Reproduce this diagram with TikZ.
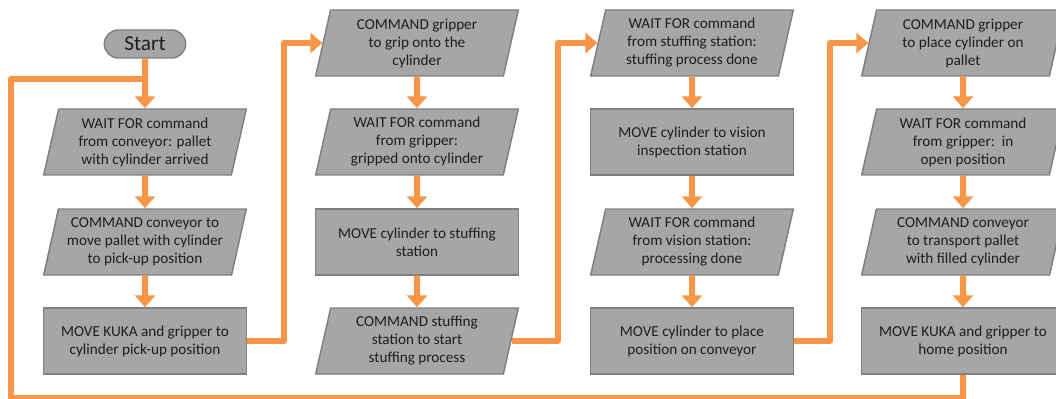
\documentclass[tikz,border=0pt]{standalone}
\usepackage{fontspec}
\setmainfont{Carlito}
\usetikzlibrary{arrows.meta}
\usetikzlibrary{shapes.geometric}
\definecolor{flowor}{HTML}{F79646}
\definecolor{boxgray}{HTML}{A6A6A6}
\definecolor{boxline}{HTML}{7F7F7F}
\definecolor{boxtext}{HTML}{1E1E1E}
\tikzset{
    procbox/.style={draw=boxline, fill=boxgray, line width=1.1pt, text=boxtext,
        minimum width=152pt, minimum height=49.5pt, inner sep=0pt, align=center,
        font=\fontsize{11.4}{13.5}\selectfont},
    iobox/.style={procbox, trapezium, trapezium left angle=73, trapezium right angle=107,
        trapezium stretches body},
    startbox/.style={procbox, rounded corners=10.5pt, minimum width=61pt, minimum height=21pt,
        font=\fontsize{16}{18}\selectfont},
    flow/.style={draw=flowor, line width=4.5pt, line join=round,
        -{Triangle[width=15pt,length=9pt]}},
    loopline/.style={draw=flowor, line width=4.5pt, line join=round}
}
\begin{document}
\begin{tikzpicture}[x=0.75pt,y=-0.75pt]
        \useasboundingbox (0,0) rectangle (1056,399);
        \node[startbox] (s) at (145,44) {Start};
        \node[iobox] (a1) at (145,142) {WAIT FOR command\\from conveyor: pallet\\with cylinder arrived};
        \node[iobox] (a2) at (145,242) {COMMAND conveyor to\\move pallet with cylinder\\to pick-up position};
        \node[procbox] (a3) at (145,341) {MOVE KUKA and gripper to\\cylinder pick-up position};
        \node[iobox] (b1) at (417,43) {COMMAND gripper\\to grip onto the\\cylinder};
        \node[iobox] (b2) at (417,142) {WAIT FOR command\\from gripper:\\gripped onto cylinder};
        \node[procbox] (b3) at (417,242) {MOVE cylinder to stuffing\\station};
        \node[iobox] (b4) at (417,341) {COMMAND stuffing\\station to start\\stuffing process};
        \node[iobox] (c1) at (692,43) {WAIT FOR command\\from stuffing station:\\stuffing process done};
        \node[procbox] (c2) at (692,142) {MOVE cylinder to vision\\inspection station};
        \node[iobox] (c3) at (692,242) {WAIT FOR command\\from vision station:\\processing done};
        \node[procbox] (c4) at (692,341) {MOVE cylinder to place\\position on conveyor};
        \node[iobox] (d1) at (963,43) {COMMAND gripper\\to place cylinder on\\pallet};
        \node[iobox] (d2) at (963,142) {WAIT FOR command\\from gripper:\ \ in\\open position};
        \node[iobox] (d3) at (963,242) {COMMAND conveyor\\to transport pallet\\with filled cylinder};
        \node[procbox] (d4) at (963,341) {MOVE KUKA and gripper to\\home position};
        \coordinate (loopjoin) at (145,79);
        \coordinate (loopcorner) at (11,398);
        \draw[loopline] (d4.south) |- (loopcorner) |- (loopjoin);
        \draw[flow] (s) -- (a1);
        \draw[flow] (a1) -- (a2);
        \draw[flow] (a2) -- (a3);
        \draw[flow] (a3.east) -- ++(37,0) |- (b1.west);
        \draw[flow] (b1) -- (b2);
        \draw[flow] (b2) -- (b3);
        \draw[flow] (b3) -- (b4);
        \draw[flow] (b4.east) -- ++(46,0) |- (c1.west);
        \draw[flow] (c1) -- (c2);
        \draw[flow] (c2) -- (c3);
        \draw[flow] (c3) -- (c4);
        \draw[flow] (c4.east) -- ++(36,0) |- (d1.west);
        \draw[flow] (d1) -- (d2);
        \draw[flow] (d2) -- (d3);
        \draw[flow] (d3) -- (d4);
    \end{tikzpicture}
\end{document}
